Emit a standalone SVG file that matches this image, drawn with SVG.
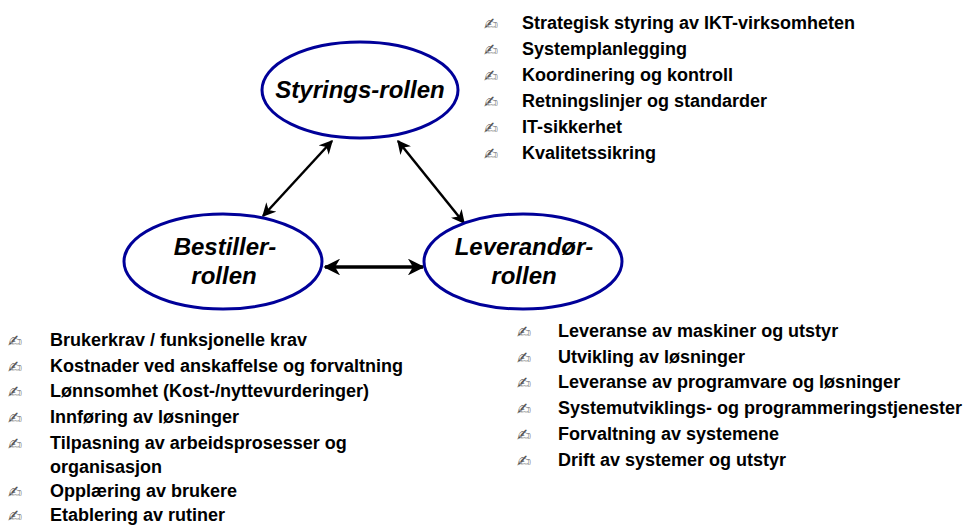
<svg xmlns="http://www.w3.org/2000/svg" width="964" height="526" viewBox="0 0 964 526">
<style>
.node ellipse{fill:#fff;stroke:#000099;stroke-width:3}
.lbl{font-family:"Liberation Sans",Arial,sans-serif;font-weight:bold;font-style:italic;font-size:24px;fill:#000;text-anchor:middle}
.it{font-family:"Liberation Sans",Arial,sans-serif;font-weight:bold;font-size:18px;fill:#000}
.b{font-family:"DejaVu Sans",sans-serif;font-size:17px;fill:#555}
.con line{stroke:#000;fill:none}
</style>
<defs>
<marker id="ah" viewBox="0 0 10 10" refX="9" refY="5" markerWidth="5.5" markerHeight="5.5" orient="auto-start-reverse" markerUnits="strokeWidth">
<path d="M0,0 L10,5 L0,10 L3,5 z" fill="#000"/>
</marker>
<marker id="ah2" viewBox="0 0 10 10" refX="9" refY="5" markerWidth="4.8" markerHeight="4.8" orient="auto-start-reverse" markerUnits="strokeWidth">
<path d="M0,0 L10,5 L0,10 L3,5 z" fill="#000"/>
</marker>
</defs>
<g id="connectors" class="con">
<line x1="332" y1="141" x2="263" y2="216" stroke-width="2.5" marker-start="url(#ah)" marker-end="url(#ah)"/>
<line x1="398" y1="141" x2="464" y2="223" stroke-width="2.5" marker-start="url(#ah)" marker-end="url(#ah)"/>
<line x1="325" y1="267" x2="423" y2="267" stroke-width="3.5" marker-start="url(#ah2)" marker-end="url(#ah2)"/>
</g>
<g id="styring" class="node">
<ellipse cx="360" cy="90" rx="98" ry="48"/>
<text class="lbl" x="360" y="98">Styrings-rollen</text>
</g>
<g id="bestiller" class="node">
<ellipse cx="223" cy="261.5" rx="99" ry="47.5"/>
<text class="lbl" x="225" y="255">Bestiller-</text>
<text class="lbl" x="224" y="284">rollen</text>
</g>
<g id="leverandor" class="node">
<ellipse cx="523" cy="261.5" rx="99" ry="47.5"/>
<text class="lbl" x="524" y="255">Leverandør-</text>
<text class="lbl" x="524" y="284">rollen</text>
</g>
<g id="list-styring">
<text class="b" x="484" y="30">✍</text><text class="it" x="522" y="29">Strategisk styring av IKT-virksomheten</text>
<text class="b" x="484" y="56">✍</text><text class="it" x="522" y="55">Systemplanlegging</text>
<text class="b" x="484" y="82">✍</text><text class="it" x="522" y="81">Koordinering og kontroll</text>
<text class="b" x="484" y="108">✍</text><text class="it" x="522" y="107">Retningslinjer og standarder</text>
<text class="b" x="484" y="134">✍</text><text class="it" x="522" y="133">IT-sikkerhet</text>
<text class="b" x="484" y="160">✍</text><text class="it" x="522" y="159">Kvalitetssikring</text>
</g>
<g id="list-bestiller">
<text class="b" x="8" y="347">✍</text><text class="it" x="50" y="346">Brukerkrav / funksjonelle krav</text>
<text class="b" x="8" y="373">✍</text><text class="it" x="50" y="372">Kostnader ved anskaffelse og forvaltning</text>
<text class="b" x="8" y="398">✍</text><text class="it" x="50" y="397">Lønnsomhet (Kost-/nyttevurderinger)</text>
<text class="b" x="8" y="424">✍</text><text class="it" x="50" y="423">Innføring av løsninger</text>
<text class="b" x="8" y="450">✍</text><text class="it" x="50" y="449">Tilpasning av arbeidsprosesser og</text>
<text class="it" x="50" y="473">organisasjon</text>
<text class="b" x="8" y="498">✍</text><text class="it" x="50" y="497">Opplæring av brukere</text>
<text class="b" x="8" y="522">✍</text><text class="it" x="50" y="521">Etablering av rutiner</text>
</g>
<g id="list-leverandor">
<text class="b" x="517" y="338">✍</text><text class="it" x="558" y="337">Leveranse av maskiner og utstyr</text>
<text class="b" x="517" y="364">✍</text><text class="it" x="558" y="363">Utvikling av løsninger</text>
<text class="b" x="517" y="389">✍</text><text class="it" x="558" y="388">Leveranse av programvare og løsninger</text>
<text class="b" x="517" y="415">✍</text><text class="it" x="558" y="414">Systemutviklings- og programmeringstjenester</text>
<text class="b" x="517" y="441">✍</text><text class="it" x="558" y="440">Forvaltning av systemene</text>
<text class="b" x="517" y="467">✍</text><text class="it" x="558" y="466">Drift av systemer og utstyr</text>
</g>
</svg>
